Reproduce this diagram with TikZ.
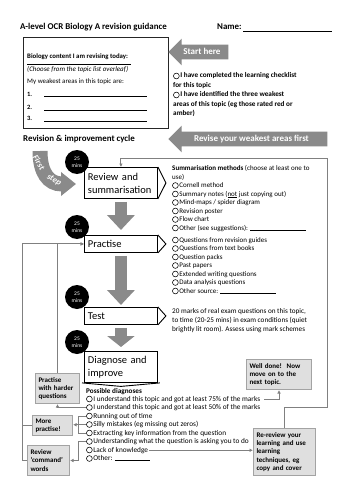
\documentclass[tikz,border=0pt]{standalone}
\usepackage{fontspec}
\setmainfont{Carlito}
\usetikzlibrary{arrows.meta,shapes.arrows,calc}
\definecolor{fatgray}{HTML}{8A8A8A}
\definecolor{linegray}{HTML}{808080}
\definecolor{boxfill}{HTML}{DFDFDF}
\definecolor{boxline}{HTML}{A3A3A3}
\newcommand\fsz[2]{\fontsize{#1}{#2}\selectfont}
\newcommand\radiob{\tikz[baseline={(0pt,-2pt)}]\draw[line width=0.55pt] (0pt,0pt) circle (2.9pt);\hspace{0.8pt}}
\tikzset{
  stagebox/.style={draw=black, line width=0.9pt, fill=white, minimum width=73pt,
    text width=66pt, inner xsep=3.5pt, inner ysep=0pt, align=left,
    font=\fsz{10.5}{13}, anchor=north west},
  timer/.style={circle, fill=black, text=white, minimum size=24pt, inner sep=0pt,
    align=center, font=\fsz{5.5}{7.5}},
  fatarrow/.style={draw=fatgray, line width=12pt, -{Triangle[width=27pt,length=15pt]}},
  conn/.style={draw=linegray, line width=1pt, -{Latex[length=3.5pt,width=3.6pt]}},
  connplain/.style={draw=linegray, line width=1pt},
  graybox/.style={draw=boxline, fill=boxfill, line width=1pt, anchor=north west,
    align=left, inner xsep=3pt, inner ysep=0pt, font=\fsz{7}{8.4}\bfseries},
  small/.style={font=\fsz{7}{8.5}, align=left, inner sep=0pt, anchor=base west},
  diag/.style={small, font=\fsz{7.3}{8.5}, text height=4.9pt, text depth=1.4pt},
  banner/.style={single arrow, shape border rotate=180, fill=fatgray, text=white,
    font=\fsz{9}{10}\bfseries, single arrow head extend=6pt, inner xsep=3pt,
    inner ysep=3pt, text height=6.5pt, text depth=1.8pt, anchor=tip},
  heading/.style={anchor=base west, inner sep=0pt, font=\fsz{8.9}{11}\bfseries},
  steptext/.style={text=white, inner sep=0pt, font=\fsz{8.5}{8.5}\bfseries\itshape},
}
\begin{document}
\begin{tikzpicture}[x=1pt,y=-1pt]
\useasboundingbox (0,0) rectangle (353,500);
\fill[white] (0,0) rectangle (353,500);

% title
\node[heading] (title) at (20,30) {A-level OCR Biology A revision guidance};
\node[heading] (name) at (217,30) {Name:};
\draw[line width=0.7pt] (243,31) -- (332,31);

% topic box
\node[draw=black!85, line width=0.9pt, minimum width=145pt, minimum height=91pt,
  anchor=north west, inner sep=0pt] (topic) at (23,37) {};
\node[small, font=\fsz{6.8}{7}\bfseries] (content) at (27,59) {Biology content I am revising today:};
\draw[line width=0.6pt] (27,64) -- (131,64);
\node[small, font=\fsz{7}{7}\itshape] (choose) at (27,71.5) {(Choose from the topic list overleaf)};
\node[small, font=\fsz{6.9}{7}] (weak) at (27,83.5) {My weakest areas in this topic are:};
\node[small, font=\fsz{6.5}{7}\bfseries] (n1) at (27,96) {1.};
\node[small, font=\fsz{6.5}{7}\bfseries] (n2) at (27,110) {2.};
\node[small, font=\fsz{6.5}{7}\bfseries] (n3) at (27,121) {3.};
\draw[line width=0.6pt] (44,96.5) -- (147,96.5) (44,110.5) -- (147,110.5) (44,121.5) -- (147,121.5);

% banners
\node[banner, minimum height=60pt] (starthere) at (168,52) {Start here};
\node[banner, minimum height=159pt] (revise) at (168,139) {Revise your weakest areas first};

% checklist (base = last line)
\node[small, font=\fsz{7.2}{9.5}\bfseries] (check) at (173,116)
  {\radiob I have completed the learning checklist\\for this topic\\
   \radiob I have identified the three weakest\\areas of this topic (eg those rated red or\\amber)};

\node[heading] (cycle) at (23,141) {Revision \& improvement cycle};

% first step curved arrow
\coordinate (fs1) at (40,151);
\coordinate (fs2) at (76,184);
\draw[draw=fatgray, line width=15pt, -{Triangle[width=23pt,length=15pt]}]
  (fs1) .. controls (40,172) and (48,184) .. (fs2);
\node[steptext, rotate=-58] (first) at (39,162.5) {First};
\node[steptext, rotate=-30] (stepw) at (54,180) {step};

% stage boxes
\node[stagebox, minimum height=31pt] (review) at (84,167) {Review and\\summarisation};
\node[stagebox, minimum height=17pt] (practise) at (84,235) {Practise};
\node[stagebox, minimum height=17pt] (test) at (84,307) {Test};
\node[stagebox, minimum height=31pt] (diag) at (84,351) {Diagnose and\\improve};
\foreach \b in {review,practise,test}
  \draw[line width=0.9pt] (\b.north east) -- ([xshift=8pt]\b.east) -- (\b.south east);
\draw[line width=0.9pt] ([xshift=-2pt]diag.south west) -- ([yshift=-3.5pt]diag.south) -- ([xshift=2pt]diag.south east);

\draw[fatarrow] ([yshift=-3pt]review.south) -- ([yshift=5pt]practise.north);
\draw[fatarrow] ([yshift=-3pt]practise.south) -- ([yshift=2pt]test.north);
\draw[fatarrow, -{Triangle[width=27pt,length=11pt]}] ([yshift=-3pt]test.south) -- ([yshift=4pt]diag.north);

% timers
\node[timer] (t1) at (77,162) {25\\mins};
\node[timer] (t2) at (77,227) {25\\mins};
\node[timer] (t3) at (77,297) {25\\mins};
\node[timer] (t4) at (77,342) {25\\mins};

% right texts (base = last line)
\node[small] (summ) at (172,230)
  {\textbf{Summarisation methods} (choose at least one to\\use)\\
   \radiob Cornell method\\
   \radiob Summary notes (\underline{not} just copying out)\\
   \radiob Mind-maps / spider diagram\\
   \radiob Revision poster\\
   \radiob Flow chart\\
   \radiob Other (see suggestions): \rule[-0.4pt]{56pt}{0.5pt}};
\node[small] (qlist) at (172,293)
  {\radiob Questions from revision guides\\
   \radiob Questions from text books\\
   \radiob Question packs\\
   \radiob Past papers\\
   \radiob Extended writing questions\\
   \radiob Data analysis questions\\
   \radiob Other source: \rule[-0.4pt]{56pt}{0.5pt}};
\node[small, font=\fsz{7.2}{9}] (testtxt) at (172,331)
  {20 marks of real exam questions on this topic,\\
   to time (20-25 mins) in exam conditions (quiet\\
   brightly lit room). Assess using mark schemes};

% gray boxes
\node[graybox, minimum width=44pt, minimum height=30pt, text width=38pt] (harder) at (35,373) {Practise\\with harder\\questions};
\node[graybox, minimum width=40pt, minimum height=20pt, text width=34pt] (more) at (32,415) {More\\practise!};
\node[graybox, minimum width=42pt, minimum height=30pt, text width=36pt] (cmd) at (27,445) {Review\\‘command’\\words};
\node[graybox, minimum width=65pt, minimum height=30pt, text width=59pt] (welldone) at (246,359) {Well done!\ \ Now\\move on to the\\next topic.};
\node[graybox, minimum width=62pt, minimum height=47pt, text width=56pt] (rereview) at (253,428) {Re-review your\\learning and use\\learning\\techniques, eg\\copy and cover};

% diagnoses
\node[small, font=\fsz{7.2}{8.5}\bfseries] (possible) at (86,393) {Possible diagnoses};
\node[diag] (dg1) at (86,401) {\radiob I understand this topic and got at least 75\% of the marks};
\node[diag] (dg2) at (86,409.5) {\radiob I understand this topic and got at least 50\% of the marks};
\node[diag] (dg3) at (86,418) {\radiob Running out of time};
\node[diag] (dg4) at (86,426.5) {\radiob Silly mistakes (eg missing out zeros)};
\node[diag] (dg5) at (86,435) {\radiob Extracting key information from the question};
\node[diag] (dg6) at (86,443.5) {\radiob Understanding what the question is asking you to do};
\node[diag] (dg7) at (86,452) {\radiob Lack of knowledge};
\node[diag] (dg8) at (86,460.5) {\radiob Other: \rule[-0.4pt]{35pt}{0.5pt}};

% connectors
\coordinate (ol) at ($(practise.west)+(-62,0)$);
\coordinate (bk) at (78,0);
\draw[conn] (rereview.north) -- ++(0,-21) -| (327,158) -| (review.north);
\draw[conn] (dg2.west) -| (harder.south);
\draw[conn] (harder.north) |- (practise.west);
\draw[conn] (cmd.west) -| (ol) -- (practise.west);
\draw[connplain] (more.west) -- (more.west -| ol);
\draw[connplain] (dg3.west) -- (dg3.west -| bk) -- (dg5.west -| bk) -- (dg5.west);
\draw[conn] (dg4.west) -- (dg4.west -| more.east);
\draw[conn] (dg6.west) -- (dg6.west -| bk) |- (cmd.east);
\draw[conn, shorten <=1pt] (dg7.east) -- (dg7.east -| rereview.west);
\draw[conn] ([xshift=4pt]dg1.east) -| (welldone.south);
\end{tikzpicture}
\end{document}
